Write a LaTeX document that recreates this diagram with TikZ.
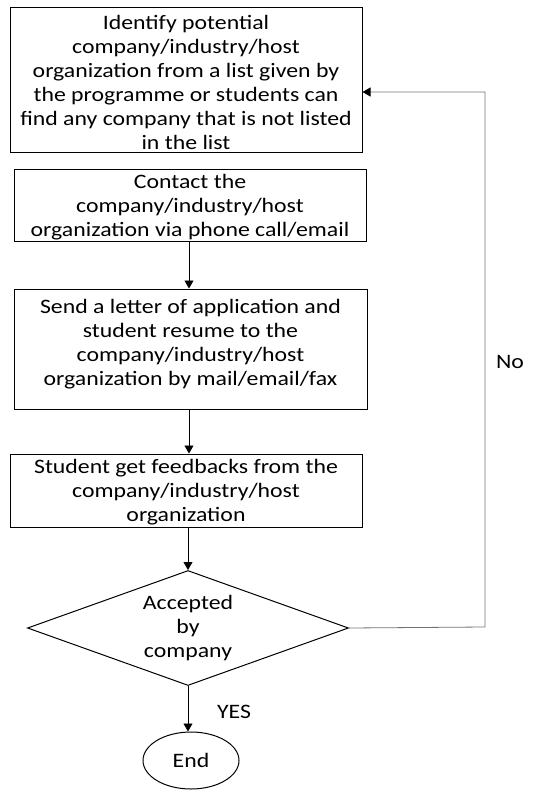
\documentclass[tikz,border=0pt]{standalone}
\usepackage{fontspec}
\setmainfont{Carlito}[FakeStretch=1.16]
\usetikzlibrary{arrows.meta,shapes.geometric}
\tikzset{
  every node/.style={font=\fontsize{20.5}{24}\selectfont},
  stepbox/.style={draw, line width=1pt, rectangle, align=center, inner sep=0pt},
  flow/.style={line width=0.8pt, -{Triangle[length=8pt,width=9pt]}},
  loopline/.style={line width=0.8pt, draw=black!55, -{Triangle[length=8pt,width=9pt,fill=black,color=black]}},
}
\begin{document}
\begin{tikzpicture}[x=1pt,y=-1pt]
\useasboundingbox (0,0) rectangle (551,790);

\node[stepbox, minimum width=352pt, minimum height=145pt] (find) at (186,79.5) {};
\node[align=center] at (186,82.5) {Identify potential\\company/industry/host\\organization from a list given by\\the programme or students can\\find any company that is not listed\\in the list};

\node[stepbox, minimum width=352pt, minimum height=72pt] (contact) at (190,205) {};
\node[align=center] at (190,207) {Contact the\\company/industry/host\\organization via phone call/email};

\node[stepbox, minimum width=353pt, minimum height=120pt] (send) at (190.5,349) {};
\node[align=center] at (190.5,344) {Send a letter of application and\\student resume to the\\company/industry/host\\organization by mail/email/fax};

\node[stepbox, minimum width=352pt, minimum height=73pt] (feedback) at (186,490.5) {};
\node[align=center] at (186,492) {Student get feedbacks from the\\company/industry/host\\organization};

\node[draw, line width=1pt, diamond, aspect=2.79, minimum width=321pt, minimum height=115pt, inner sep=0pt, align=center] (accept) at (188,628) {Accepted\\by\\company};

\node[draw, line width=1pt, ellipse, minimum width=96pt, minimum height=57pt, inner sep=0pt] (stop) at (191,760.5) {End};

\coordinate (turn) at (485,627);

\draw[flow] (contact.south -| 189,0) -- (send.north -| 189,0);
\draw[flow] (send.south -| 189,0) -- (feedback.north -| 189,0);
\draw[flow] (accept.north |- feedback.south) -- (accept.north);
\draw[flow] (accept.south) -- (accept.south |- stop.north);
\draw[loopline] (accept.east) -- (turn) |- ([yshift=-12.5pt]find.east);

\node at (510,362) {No};
\node at (234,712) {YES};
\end{tikzpicture}
\end{document}
